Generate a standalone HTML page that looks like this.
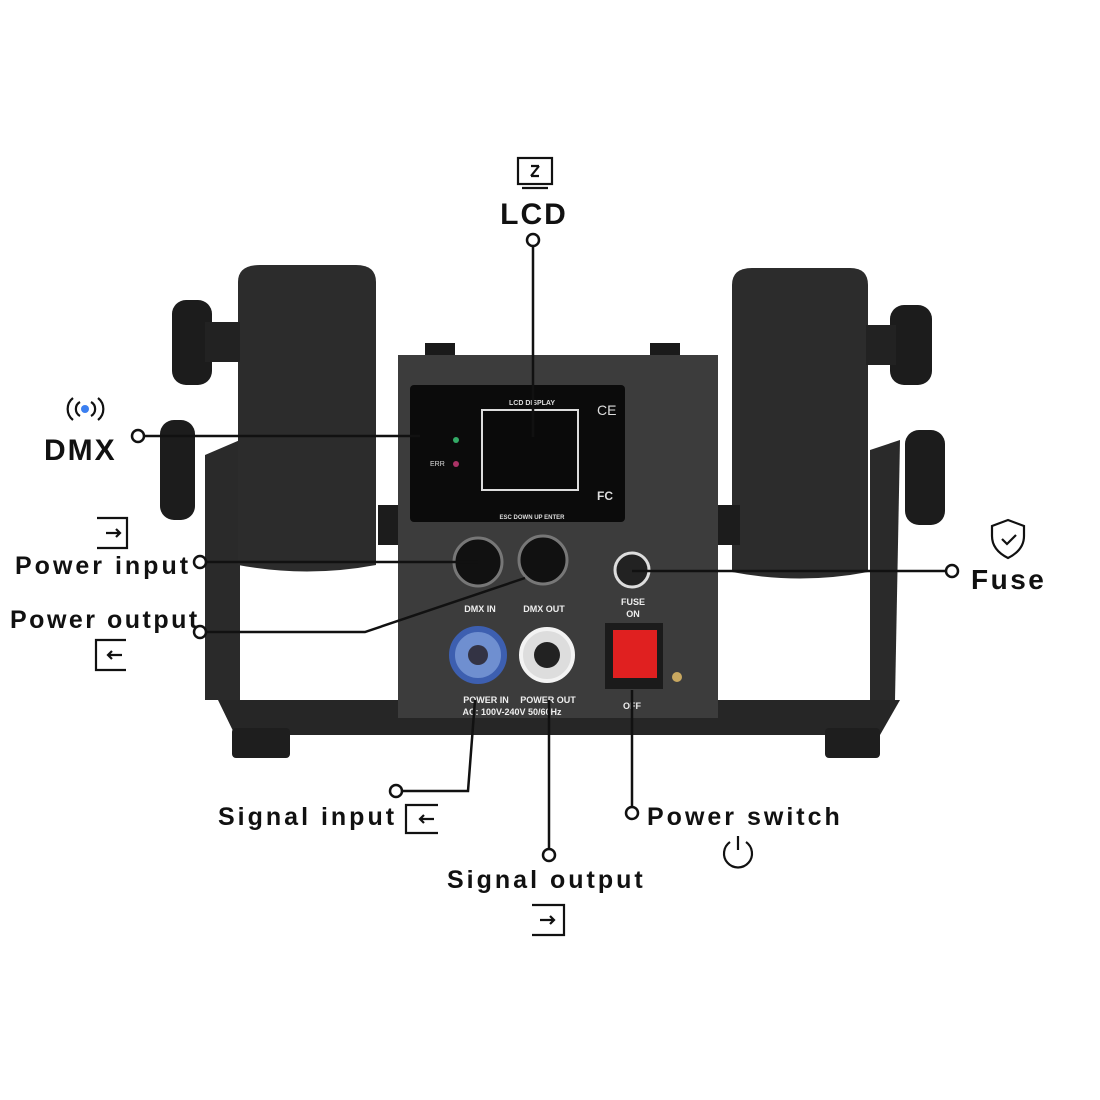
<!DOCTYPE html>
<html><head><style>
html,body{margin:0;padding:0;background:#fff;}
svg{display:block;}
text{font-family:"Liberation Sans",sans-serif;}
</style></head><body>
<svg width="1100" height="1100" viewBox="0 0 1100 1100" xmlns="http://www.w3.org/2000/svg">
<rect width="1100" height="1100" fill="#fff"/>
<path d="M205 455 L240 440 L240 700 L205 700 Z" fill="#2a2a2a"/>
<path d="M870 450 L900 440 L895 700 L870 700 Z" fill="#2a2a2a"/>
<path d="M218 700 L900 700 L880 735 L235 735 Z" fill="#262626"/>
<rect x="232" y="728" width="58" height="30" rx="4" fill="#1e1e1e"/>
<rect x="825" y="728" width="55" height="30" rx="4" fill="#1e1e1e"/>
<path d="M238 282 Q238 265 260 265 L356 265 Q376 265 376 282 L376 565 Q307 578 238 565 Z" fill="#2c2c2c"/>
<path d="M732 285 Q732 268 752 268 L850 268 Q868 268 868 285 L868 572 Q800 585 732 572 Z" fill="#2c2c2c"/>
<rect x="172" y="300" width="40" height="85" rx="14" fill="#1c1c1c"/>
<rect x="205" y="322" width="35" height="40" fill="#222"/>
<rect x="160" y="420" width="35" height="100" rx="14" fill="#1c1c1c"/>
<rect x="890" y="305" width="42" height="80" rx="14" fill="#1c1c1c"/>
<rect x="866" y="325" width="30" height="40" fill="#222"/>
<rect x="905" y="430" width="40" height="95" rx="14" fill="#1c1c1c"/>
<rect x="378" y="505" width="25" height="40" fill="#1c1c1c"/>
<rect x="715" y="505" width="25" height="40" fill="#1c1c1c"/>
<rect x="425" y="343" width="30" height="15" fill="#1a1a1a"/>
<rect x="650" y="343" width="30" height="15" fill="#1a1a1a"/>
<rect x="398" y="355" width="320" height="363" fill="#3c3c3c"/>
<rect x="410" y="385" width="215" height="137" rx="4" fill="#0b0b0b"/>
<rect x="482" y="410" width="96" height="80" fill="#0a0a0a" stroke="#ddd" stroke-width="2"/>
<text x="532" y="405" font-size="7" fill="#ddd" text-anchor="middle" font-weight="bold">LCD DISPLAY</text>
<text x="430" y="466" font-size="7" fill="#ddd">ERR</text>
<circle cx="456" cy="440" r="3" fill="#3a6"/><circle cx="456" cy="464" r="3" fill="#a36"/>
<text x="532" y="519" font-size="6" fill="#ddd" text-anchor="middle" font-weight="bold">ESC  DOWN  UP  ENTER</text>
<text x="597" y="415" font-size="14" fill="#ddd">CE</text>
<text x="597" y="500" font-size="12" fill="#ddd" font-weight="bold">FC</text>
<circle cx="478" cy="562" r="24" fill="#111" stroke="#777" stroke-width="3"/>
<circle cx="543" cy="560" r="24" fill="#111" stroke="#777" stroke-width="3"/>
<circle cx="632" cy="570" r="17" fill="#222" stroke="#ddd" stroke-width="3"/>
<circle cx="478" cy="655" r="26" fill="#6f8fd0" stroke="#3d5fb0" stroke-width="6"/>
<circle cx="478" cy="655" r="10" fill="#334"/>
<circle cx="547" cy="655" r="26" fill="#ddd" stroke="#f3f3f3" stroke-width="4"/>
<circle cx="547" cy="655" r="13" fill="#222"/>
<rect x="605" y="623" width="58" height="66" fill="#1b1b1b"/>
<rect x="613" y="630" width="44" height="48" fill="#e02020"/>
<circle cx="677" cy="677" r="5" fill="#c9a860"/>
<g font-size="9" fill="#eee" text-anchor="middle" font-weight="bold">
<text x="480" y="612">DMX IN</text><text x="544" y="612">DMX OUT</text>
<text x="633" y="605">FUSE</text><text x="633" y="617">ON</text>
<text x="632" y="709">OFF</text>
<text x="486" y="703">POWER IN</text><text x="548" y="703">POWER OUT</text>
<text x="512" y="715">AC: 100V-240V  50/60Hz</text>
</g>
<g stroke="#111" stroke-width="2.5" fill="none">
<line x1="533" y1="246" x2="533" y2="437"/>
<line x1="144" y1="436" x2="420" y2="436"/>
<line x1="206" y1="562" x2="478" y2="562"/>
<polyline points="206,632 365,632 525,578"/>
<line x1="946" y1="571" x2="632" y2="571"/>
<polyline points="402,791 468,791 475,700"/>
<line x1="549" y1="849" x2="549" y2="700"/>
<line x1="632" y1="807" x2="632" y2="690"/>
</g>
<g fill="#fff" stroke="#111" stroke-width="2.5">
<circle cx="533" cy="240" r="6"/><circle cx="138" cy="436" r="6"/>
<circle cx="200" cy="562" r="6"/><circle cx="200" cy="632" r="6"/>
<circle cx="952" cy="571" r="6"/><circle cx="396" cy="791" r="6"/>
<circle cx="549" cy="855" r="6"/><circle cx="632" cy="813" r="6"/>
</g>
<g fill="#111" font-weight="bold">
<text x="534" y="224" font-size="30" text-anchor="middle" letter-spacing="2">LCD</text>
<text x="44" y="460" font-size="30" letter-spacing="2">DMX</text>
<text x="971" y="589" font-size="28" letter-spacing="2.5">Fuse</text>
<g font-size="25" letter-spacing="3">
<text x="15" y="574">Power input</text>
<text x="10" y="628" letter-spacing="2.5">Power output</text>
<text x="218" y="825">Signal input</text>
<text x="447" y="888">Signal output</text>
<text x="647" y="825">Power switch</text>
</g>
</g>
<g stroke="#111" stroke-width="2.2" fill="none">
<rect x="518" y="158" width="34" height="26"/><line x1="522" y1="188" x2="548" y2="188"/>
<path d="M531 166 l8 0 M531 176 l8 0 M539 166 l-8 10"/>
<path d="M73 398 a14 14 0 0 0 0 22 M80 402 a8 8 0 0 0 0 14 M98 398 a14 14 0 0 1 0 22 M91 402 a8 8 0 0 1 0 14"/>
<path d="M97 518 h30 v30 h-30 M106 533 h14 m-4 -4 l4 4 l-4 4"/>
<path d="M126 640 h-30 v30 h30 M122 655 h-14 m4 -4 l-4 4 l4 4"/>
<path d="M438 805 h-32 v28 h32 M434 819 h-14 m4 -4 l-4 4 l4 4"/>
<path d="M532 905 h32 v30 h-32 M540 920 h14 m-4 -4 l4 4 l-4 4"/>
<path d="M730 842 a14 14 0 1 0 16 0 M738 836 v14"/>
<path d="M1008 520 l16 6 v10 q0 14 -16 22 q-16 -8 -16 -22 v-10 z M1002 539 l5 5 l9 -9"/>
</g>
<circle cx="85" cy="409" r="4" fill="#3b7ff0"/>
</svg>
</body></html>
